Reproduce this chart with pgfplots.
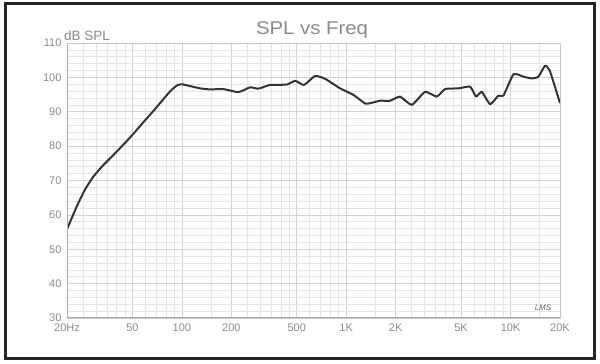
\documentclass[border=0pt]{standalone}
\usepackage{fontspec}
\setmainfont{Liberation Sans}
\usepackage{pgfplots}
\pgfplotsset{compat=1.18}
\definecolor{txtgray}{HTML}{8A8A8A}
\definecolor{gridmaj}{HTML}{D0D0D0}
\definecolor{gridmin}{HTML}{E4E4E4}
\definecolor{curve}{HTML}{333333}
\begin{document}
\begin{tikzpicture}[x=1pt,y=1pt]
\useasboundingbox (0,0) rectangle (600,364);
\fill[white] (0,0) rectangle (600,364);
\begin{axis}[
  at={(67pt,46pt)}, anchor=south west,
  scale only axis, width=493pt, height=275pt,
  xmode=log, xmin=20, xmax=20000, ymin=30, ymax=110,
  log basis x=10,
  xtick={20,50,100,200,500,1000,2000,5000,10000,20000},
  xticklabels={20Hz,50,100,200,500,1K,2K,5K,10K,20K},
  minor xtick={30,40,60,70,80,90,300,400,600,700,800,900,3000,4000,6000,7000,8000,9000,25,35,45,150,250,350,450,1500,2500,3500,4500,15000},
  ytick={30,40,...,110},
  minor ytick={32,34,...,108},
  grid=both,
  major grid style={gridmaj, line width=0.7pt},
  minor grid style={gridmin, line width=0.6pt},
  major tick length=0pt, minor tick length=0pt,
  axis line style={draw=gray!45, line width=0.7pt},
  /pgf/number format/assume math mode=true,
  tick label style={text=txtgray, font=\fontsize{11}{12}\selectfont},
  yticklabel style={xshift=-2pt},
  xticklabel style={yshift=-2pt},
  clip=true,
]
\addplot[curve, line width=2pt, line join=round, smooth, tension=0.3] coordinates {
(20,55.8) (22.9,62.4) (25.7,67.3) (28.9,71.1) (33.3,74.5) (38.3,77.4) (44,80.4)
(50.7,83.6) (58.2,86.9) (67,90.2) (77,93.6) (85,96.0) (93,97.6) (100,98.0)
(129,96.8) (149,96.5) (179,96.6) (221,95.7) (260,97.1) (292,96.7) (344,97.8)
(435,97.9) (489,99.0) (554,97.8) (646,100.4) (743,99.6) (918,96.8) (1107,94.9)
(1303,92.4) (1400,92.5) (1608,93.2) (1849,93.2) (2127,94.4) (2506,92.0)
(3019,95.8) (3557,94.4) (4000,96.6) (4819,96.8) (5677,97.3) (6170,94.4)
(6683,95.8) (7515,92.2) (8439,94.7) (9053,94.7) (10424,100.9) (11977,100.2)
(13460,99.7) (14780,100.2) (16230,103.4) (17400,101.7) (20000,92.5)
};
\draw[gray!65, line width=1.6pt] (axis cs:20,110) -- (axis cs:20,30) -- (axis cs:20000,30);
\end{axis}
\node[anchor=base, text=txtgray, font=\fontsize{18.5}{20}\selectfont, xscale=1.1] at (312,329) {SPL vs Freq};
\node[anchor=base west, inner sep=0pt, text=txtgray, font=\fontsize{13.5}{14}\selectfont] at (64,323.3) {dB SPL};
\node[anchor=base, inner sep=0pt, text=gray!80!black, font=\fontsize{8}{9}\selectfont\itshape] at (543,53) {LMS};
\draw[black!85, line width=3pt] (5.5,5.7) rectangle (594.3,360.3);
\end{tikzpicture}
\end{document}
